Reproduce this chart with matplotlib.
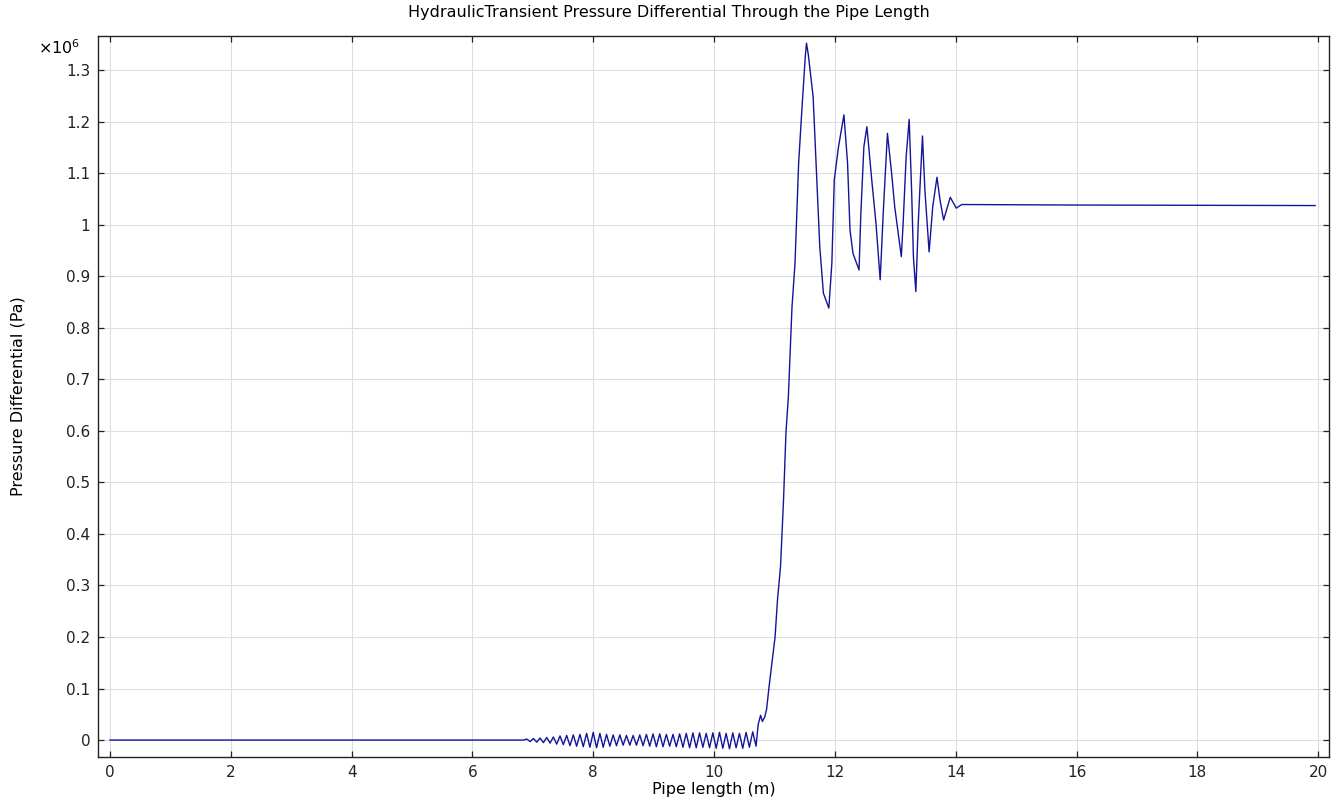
#imports
import numpy as np
import matplotlib
matplotlib.use("Agg")
import matplotlib.pyplot as plt
from matplotlib.ticker import FuncFormatter, MultipleLocator

#data (pressure in units of 1e6 Pa)
lead_x = [0.0, 6.85]
lead_p = [0.0, 0.0]

ripple_x = [6.90, 6.955, 7.01, 7.065, 7.12, 7.175, 7.23, 7.285, 7.34, 7.395,
            7.45, 7.505, 7.56, 7.615, 7.67, 7.725, 7.78, 7.835, 7.89, 7.945,
            8.00, 8.055, 8.11, 8.165, 8.22, 8.275, 8.33, 8.385, 8.44, 8.495,
            8.55, 8.605, 8.66, 8.715, 8.77, 8.825, 8.88, 8.935, 8.99, 9.045,
            9.10, 9.155, 9.21, 9.265, 9.32, 9.375, 9.43, 9.485, 9.54, 9.595,
            9.65, 9.705, 9.76, 9.815, 9.87, 9.925, 9.98, 10.035, 10.09, 10.145,
            10.20, 10.255, 10.31, 10.365, 10.42, 10.475, 10.53, 10.585, 10.64, 10.695]
ripple_p = [0.002, -0.003, 0.003, -0.004, 0.004, -0.005, 0.005, -0.006, 0.006, -0.008,
            0.008, -0.009, 0.009, -0.011, 0.010, -0.012, 0.011, -0.013, 0.013, -0.014,
            0.015, -0.015, 0.013, -0.014, 0.011, -0.012, 0.010, -0.011, 0.010, -0.010,
            0.009, -0.010, 0.009, -0.010, 0.010, -0.011, 0.011, -0.012, 0.012, -0.013,
            0.012, -0.013, 0.011, -0.012, 0.011, -0.013, 0.012, -0.014, 0.013, -0.015,
            0.014, -0.015, 0.014, -0.014, 0.013, -0.015, 0.014, -0.016, 0.015, -0.016,
            0.013, -0.017, 0.014, -0.015, 0.013, -0.016, 0.015, -0.014, 0.016, -0.012]

surge_x = [10.73, 10.77, 10.80, 10.84, 10.87, 10.91, 10.95, 11.01, 11.05, 11.10,
           11.15, 11.19, 11.23, 11.26, 11.29, 11.34, 11.40, 11.45, 11.51, 11.53,
           11.56, 11.64, 11.70, 11.75, 11.81, 11.90, 11.95, 11.99, 12.06, 12.15,
           12.21, 12.25, 12.30, 12.40, 12.43, 12.48, 12.53, 12.61, 12.68, 12.75,
           12.80, 12.87, 12.94, 12.99, 13.10, 13.13, 13.18, 13.23, 13.27, 13.30,
           13.34, 13.38, 13.45, 13.49, 13.56, 13.62, 13.69, 13.74, 13.80, 13.91,
           14.01, 14.10]
surge_p = [0.030, 0.048, 0.036, 0.045, 0.060, 0.103, 0.142, 0.200, 0.272, 0.336,
           0.466, 0.596, 0.666, 0.753, 0.840, 0.925, 1.119, 1.216, 1.326, 1.352,
           1.330, 1.248, 1.087, 0.957, 0.867, 0.838, 0.925, 1.087, 1.151, 1.213,
           1.119, 0.990, 0.944, 0.912, 1.022, 1.151, 1.190, 1.087, 1.003, 0.893,
           1.022, 1.177, 1.099, 1.035, 0.938, 1.003, 1.132, 1.204, 1.067, 0.938,
           0.870, 1.003, 1.172, 1.067, 0.947, 1.035, 1.092, 1.048, 1.009, 1.053,
           1.032, 1.039]

tail_x = [16.0, 19.95]
tail_p = [1.038, 1.037]

pipe_x = np.array(lead_x + ripple_x + surge_x + tail_x)
pressure = np.array(lead_p + ripple_p + surge_p + tail_p)

#figure
fig = plt.figure(figsize=(13.38, 8.05), dpi=100)
ax = fig.add_axes([0.0736, 0.0602, 0.9197, 0.8951])

ax.plot(pipe_x, pressure, color="#14149a", linewidth=1.0)

ax.set_xlim(-0.19, 20.18)
ax.set_ylim(-0.032, 1.366)
ax.xaxis.set_major_locator(MultipleLocator(2))
ax.yaxis.set_major_locator(MultipleLocator(0.1))
ax.yaxis.set_major_formatter(FuncFormatter(lambda v, pos: "%g" % round(v, 2)))

ax.grid(True, color="#dedede", linewidth=0.8)
ax.tick_params(direction="in", length=4, width=0.9, top=True, right=True,
               labelsize=11, colors="#222222")
ax.tick_params(axis="x", pad=6)
ax.tick_params(axis="y", pad=6)
for s in ax.spines.values():
    s.set_linewidth(1.0)
    s.set_color("#222222")

ax.set_xlabel("Pipe length (m)", fontsize=11.5)
ax.xaxis.set_label_coords(0.5, -0.036)
ax.set_ylabel("Pressure Differential (Pa)", fontsize=11.5)
ax.yaxis.set_label_coords(-0.0597, 0.5)
fig.text(0.5, 0.985, "HydraulicTransient Pressure Differential Through the Pipe Length",
         ha="center", va="center", fontsize=11.5)
ax.text(-0.015, 0.997, r"$\times10^6$", transform=ax.transAxes, ha="right",
        va="top", fontsize=11.5)

plt.savefig("out.png", dpi=100)
